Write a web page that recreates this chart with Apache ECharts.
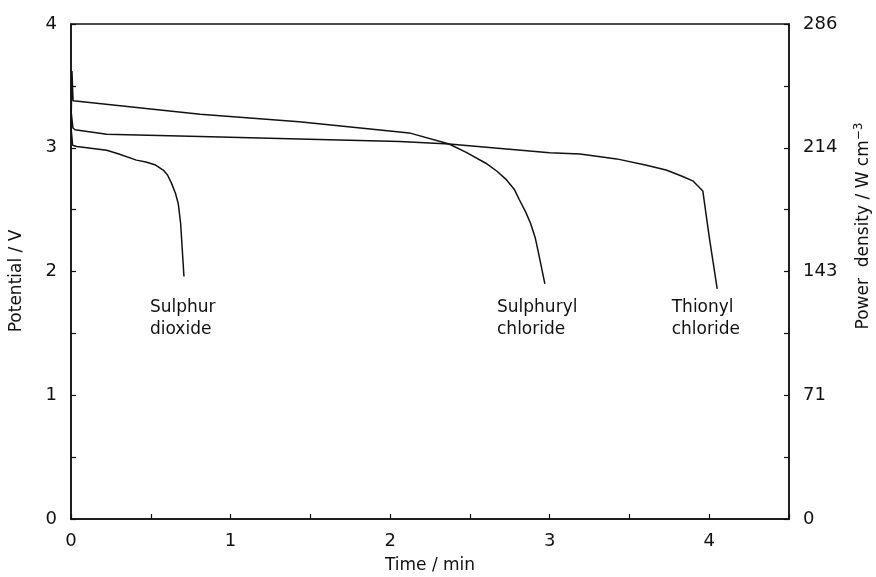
<!DOCTYPE html>
<html><head><meta charset="utf-8">
<script src="https://cdn.jsdelivr.net/npm/echarts@6/dist/echarts.min.js"></script>
<style>html,body{margin:0;padding:0;background:#fff}#c{width:876px;height:577px}</style>
</head><body><div id="c"></div>
<script>
// time (min), potential (V)
const sulphurDioxide = [[0,3.17],[0.01,3.02],[0.036,3.01],[0.224,2.98],[0.30,2.95],[0.41,2.90],[0.47,2.885],[0.53,2.86],[0.578,2.82],[0.605,2.78],[0.631,2.71],[0.655,2.63],[0.672,2.55],[0.687,2.39],[0.708,1.96]];
const sulphurylChloride = [[0,3.15],[0.006,3.62],[0.013,3.38],[0.025,3.37],[0.81,3.27],[1.43,3.21],[2.12,3.12],[2.37,3.03],[2.48,2.96],[2.60,2.875],[2.67,2.81],[2.73,2.74],[2.78,2.66],[2.81,2.58],[2.85,2.48],[2.88,2.39],[2.91,2.27],[2.93,2.15],[2.97,1.90]];
const thionylChloride = [[0,3.30],[0.012,3.16],[0.025,3.145],[0.224,3.11],[0.81,3.09],[1.43,3.07],[2.06,3.05],[2.37,3.03],[3.0,2.96],[3.19,2.95],[3.42,2.91],[3.60,2.86],[3.73,2.82],[3.83,2.77],[3.90,2.73],[3.96,2.65],[4.00,2.28],[4.05,1.86]];
const curveLabels = [
  {name:'Sulphur\ndioxide', at:[0.495,1.80]},
  {name:'Sulphuryl\nchloride', at:[2.67,1.80]},
  {name:'Thionyl\nchloride', at:[3.765,1.80]}
];
const xTickLabels = ['0','1','2','3','4'];
const leftTickLabels = ['0','1','2','3','4'];
const rightTickLabels = ['0','71','143','214','286'];

const FONT = 'DejaVu Sans';
const chart = echarts.init(document.getElementById('c'), null, {renderer:'canvas'});
function lineSeries(d){
  return {type:'line', data:d, showSymbol:false, symbol:'none', smooth:false,
    lineStyle:{color:'#111', width:1.5}, animation:false};
}
function tickFmt(arr){ return v => (Math.abs(v - Math.round(v)) < 1e-9 && arr[Math.round(v)] !== undefined) ? arr[Math.round(v)] : ''; }
const option = {
  animation:false,
  grid:{left:71, right:87, top:24, bottom:58, outerBoundsMode:'none', containLabel:false, show:true, borderColor:'#111', borderWidth:1.5},
  xAxis:{type:'value', min:0, max:4.5, interval:0.5,
    name:'Time / min', nameLocation:'middle', nameGap:38,
    nameTextStyle:{fontFamily:FONT, fontSize:17, color:'#111'},
    axisLine:{show:true, lineStyle:{color:'#111', width:1.5}},
    axisTick:{show:true, inside:true, length:5, lineStyle:{color:'#111', width:1.2}},
    splitLine:{show:false},
    axisLabel:{formatter:tickFmt(xTickLabels), fontFamily:FONT, fontSize:18, color:'#111', margin:13, showMaxLabel:true}
  },
  yAxis:[
    {type:'value', min:0, max:4, interval:0.5, position:'left',
      axisLine:{show:true, lineStyle:{color:'#111', width:1.5}},
      axisTick:{show:true, inside:true, length:5, lineStyle:{color:'#111', width:1.2}},
      splitLine:{show:false},
      axisLabel:{formatter:tickFmt(leftTickLabels), fontFamily:FONT, fontSize:18, color:'#111', margin:14}
    },
    {type:'value', min:0, max:4, interval:0.5, position:'right',
      axisLine:{show:true, lineStyle:{color:'#111', width:1.5}},
      axisTick:{show:true, inside:true, length:5, lineStyle:{color:'#111', width:1.2}},
      splitLine:{show:false},
      axisLabel:{formatter:tickFmt(rightTickLabels), fontFamily:FONT, fontSize:18, color:'#111', margin:14}
    }
  ],
  series:[
    lineSeries(sulphurDioxide),
    lineSeries(sulphurylChloride),
    lineSeries(thionylChloride),
    {type:'scatter', symbolSize:0, silent:true, itemStyle:{opacity:1},
      data:curveLabels.map(c => ({value:c.at, name:c.name})),
      label:{show:true, position:'inside', formatter:p => p.name, align:'left', verticalAlign:'top',
        fontFamily:FONT, fontSize:17, lineHeight:22, color:'#111', opacity:1}}
  ],
  graphic:[
    {type:'text', x:17, y:281, rotation:Math.PI/2,
      style:{text:'Potential / V', font:'17px "DejaVu Sans"', fill:'#111', align:'center', verticalAlign:'middle'}},
    {type:'text', x:864, y:226, rotation:Math.PI/2,
      style:{text:'Power  density / W cm{sup|−3}', font:'17px "DejaVu Sans"', fill:'#111', align:'center', verticalAlign:'middle',
        rich:{sup:{fontSize:12, verticalAlign:'bottom', padding:[0,0,10,0], fontFamily:FONT, fill:'#111'}}}}
  ]
};
chart.setOption(option);
</script>
</body></html>
